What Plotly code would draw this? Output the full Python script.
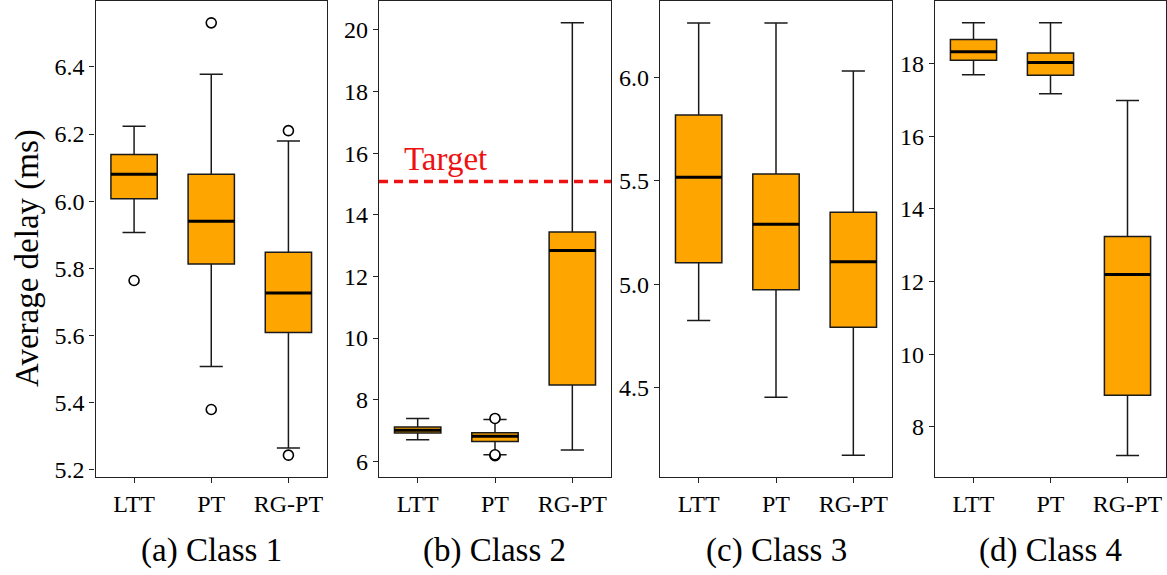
import plotly.graph_objects as go

categories = ["LTT", "PT", "RG-PT"]
panel_titles = ["(a) Class 1", "(b) Class 2", "(c) Class 3", "(d) Class 4"]
y_label = "Average delay (ms)"

# Box statistics per class: [LTT, PT, RG-PT]
c1_low = [5.907, 5.508, 5.265]
c1_q1 = [6.007, 5.813, 5.609]
c1_med = [6.080, 5.940, 5.727]
c1_q3 = [6.139, 6.080, 5.848]
c1_high = [6.223, 6.378, 6.179]
c1_out_x = [0, 1, 1, 2, 2]
c1_out_y = [5.764, 6.531, 5.380, 6.210, 5.244]

c2_low = [6.70, 6.21, 6.37]
c2_q1 = [6.92, 6.64, 8.48]
c2_med = [7.01, 6.81, 12.84]
c2_q3 = [7.11, 6.93, 13.44]
c2_high = [7.39, 7.36, 20.23]
c2_out_x = [1, 1, 1]
c2_out_y = [7.39, 6.18, 6.21]
target_value = 15.08

c3_low = [4.826, 4.455, 4.174]
c3_q1 = [5.105, 4.974, 4.793]
c3_med = [5.518, 5.291, 5.109]
c3_q3 = [5.819, 5.534, 5.349]
c3_high = [6.264, 6.264, 6.032]
c3_out_x = []
c3_out_y = []

c4_low = [17.69, 17.17, 7.21]
c4_q1 = [18.09, 17.68, 8.87]
c4_med = [18.32, 18.03, 12.19]
c4_q3 = [18.66, 18.29, 13.24]
c4_high = [19.12, 19.12, 16.98]
c4_out_x = []
c4_out_y = []

y_ranges = [[5.179, 6.596], [5.49, 20.94], [4.069, 6.370], [6.62, 19.72]]
y_dticks = [0.2, 2, 0.5, 2]
y_formats = [".1f", "d", ".1f", "d"]

W, H = 1167, 575
x_px = [(95.5, 327), (379, 611), (660, 892), (935, 1166)]
y_dom = [1 - 477 / H, 1 - 1 / H]

FONT = "Liberation Serif, Times New Roman, serif"
ORANGE = "#FFA500"
BOX_W = 0.6

classes = [
    (c1_low, c1_q1, c1_med, c1_q3, c1_high, c1_out_x, c1_out_y),
    (c2_low, c2_q1, c2_med, c2_q3, c2_high, c2_out_x, c2_out_y),
    (c3_low, c3_q1, c3_med, c3_q3, c3_high, c3_out_x, c3_out_y),
    (c4_low, c4_q1, c4_med, c4_q3, c4_high, c4_out_x, c4_out_y),
]

fig = go.Figure()
pos = list(range(len(categories)))

for k, (lo, q1, med, q3, hi, ox, oy) in enumerate(classes):
    sfx = "" if k == 0 else str(k + 1)
    xa, ya = "x" + sfx, "y" + sfx
    fig.add_trace(go.Box(
        x=pos, lowerfence=lo, q1=q1, median=med, q3=q3, upperfence=hi,
        width=BOX_W, whiskerwidth=0.5, boxpoints=False,
        fillcolor=ORANGE, line=dict(color="#1a1a1a", width=1.5),
        xaxis=xa, yaxis=ya, showlegend=False, hoverinfo="skip",
    ))
    mx, my = [], []
    for i, m in enumerate(med):
        mx += [pos[i] - BOX_W / 2, pos[i] + BOX_W / 2, None]
        my += [m, m, None]
    fig.add_trace(go.Scatter(
        x=mx, y=my, mode="lines", line=dict(color="black", width=3),
        xaxis=xa, yaxis=ya, showlegend=False, hoverinfo="skip",
    ))
    if ox:
        fig.add_trace(go.Scatter(
            x=ox, y=oy, mode="markers",
            marker=dict(symbol="circle", size=10, color="white",
                        line=dict(color="black", width=1.6)),
            xaxis=xa, yaxis=ya, showlegend=False, hoverinfo="skip",
        ))

layout = dict(
    width=W, height=H,
    margin=dict(l=0, r=0, t=0, b=0),
    paper_bgcolor="white", plot_bgcolor="white",
    font=dict(family=FONT, color="black", size=24),
    showlegend=False,
)

annotations = []
for k in range(4):
    sfx = "" if k == 0 else str(k + 1)
    x0, x1 = x_px[k]
    layout["xaxis" + sfx] = dict(
        domain=[x0 / W, x1 / W], anchor="y" + sfx,
        range=[-0.5, 2.5], tickvals=pos, ticktext=categories,
        showline=True, mirror=True, linecolor="#222", linewidth=1.3,
        ticks="outside", ticklen=5, tickcolor="#222", showgrid=False,
        zeroline=False, automargin=False,
        tickfont=dict(family=FONT, size=24),
    )
    layout["yaxis" + sfx] = dict(
        domain=y_dom, anchor="x" + sfx,
        range=y_ranges[k], dtick=y_dticks[k], tick0=0,
        tickformat=y_formats[k],
        showline=True, mirror=True, linecolor="#222", linewidth=1.3,
        ticks="outside", ticklen=5, tickcolor="#222", showgrid=False,
        zeroline=False, automargin=False,
        tickfont=dict(family=FONT, size=24),
    )
    annotations.append(dict(
        text=panel_titles[k], xref="paper", yref="paper",
        x=(x0 + x1) / 2 / W, y=1 - 550 / H, xanchor="center", yanchor="middle",
        showarrow=False, font=dict(family=FONT, size=33, color="black"),
    ))

annotations.append(dict(
    text=y_label, xref="paper", yref="paper",
    x=27 / W, y=1 - 258 / H, xanchor="center", yanchor="middle",
    textangle=-90, showarrow=False,
    font=dict(family=FONT, size=33, color="black"),
))
annotations.append(dict(
    text="Target", xref="x2", yref="y2",
    x=-0.2, y=target_value, xanchor="left", yanchor="bottom", yshift=3,
    showarrow=False, font=dict(family=FONT, size=33, color="#EE1111"),
))
layout["annotations"] = annotations
layout["shapes"] = [dict(
    type="line", xref="x2 domain", yref="y2",
    x0=0, x1=1, y0=target_value, y1=target_value,
    line=dict(color="#EE1111", width=3.5, dash="9px,6px"),
)]

fig.update_layout(**layout)
fig.write_html("out.html", config={"displayModeBar": False},
               post_script="document.body.style.margin='0';")
